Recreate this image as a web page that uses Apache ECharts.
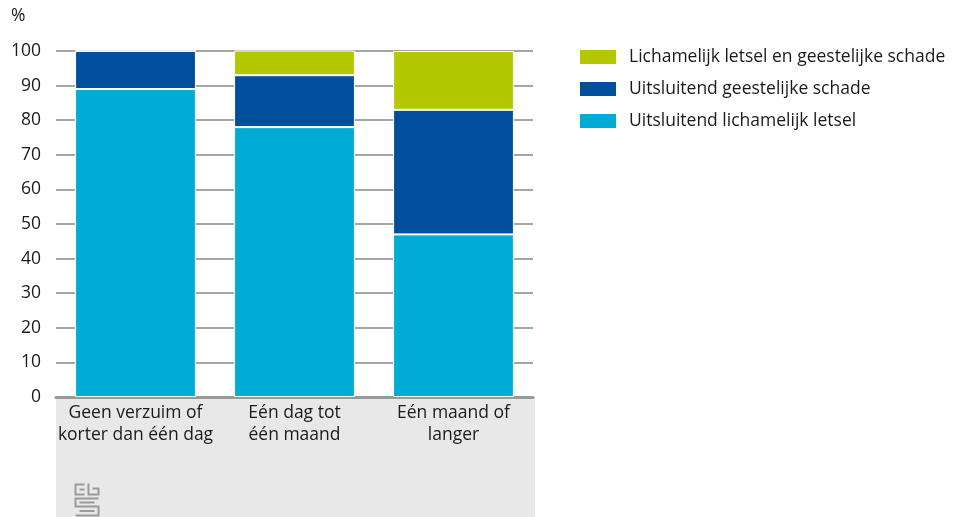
<!DOCTYPE html>
<html>
<head>
<meta charset="utf-8">
<script src="https://cdn.jsdelivr.net/npm/echarts@6/dist/echarts.min.js"></script>
<style>
  html, body { margin: 0; padding: 0; background: #fff; }
  #chart { width: 967px; height: 517px; }
</style>
</head>
<body>
<div id="chart"></div>
<script>
// categorieën (duur verzuim)
const categories = ['Geen verzuim of\nkorter dan één dag', 'Eén dag tot\néén maand', 'Eén maand of\nlanger'];
// percentages per categorie
const lichamelijk = [89, 78, 47];
const geestelijk = [11, 15, 36];
const beide = [0, 8, 17];

const seriesNames = ['Uitsluitend lichamelijk letsel', 'Uitsluitend geestelijke schade', 'Lichamelijk letsel en geestelijke schade'];
const colors = ['#00acd6', '#004f9d', '#b3c800'];

const fontFam = '"Open Sans", sans-serif';
const textColor = '#1a1a1a';
const fs = 17.5;

const chart = echarts.init(document.getElementById('chart'));

function makeSeries(name, data, color) {
  return {
    name: name,
    type: 'bar',
    stack: 'totaal',
    data: data,
    barWidth: '76%',
    itemStyle: {
      color: color,
      borderColor: '#fff',
      borderWidth: 1
    }
  };
}

const logoLine = { stroke: '#9a9a9a', lineWidth: 2, fill: null };

const option = {
  backgroundColor: '#fff',
  animation: false,
  textStyle: { fontFamily: fontFam },
  grid: { left: 56, right: 434, top: 51, bottom: 120 },
  graphic: [
    // grijs vlak onder de x-as
    {
      type: 'rect',
      z: -10,
      shape: { x: 56, y: 397, width: 479, height: 120 },
      style: { fill: '#e8e8e8' }
    },
    {
      type: 'text',
      left: 11,
      top: 7,
      style: { text: '%', fontSize: fs, fontFamily: fontFam, fill: textColor }
    },
    // cbs logo (benadering)
    {
      type: 'group',
      left: 73,
      top: 481,
      children: [
        { type: 'polyline', shape: { points: [[10, 1], [1, 1], [1, 11], [10, 11]] }, style: logoLine },
        { type: 'polyline', shape: { points: [[5, 6], [10, 6]] }, style: logoLine },
        { type: 'polyline', shape: { points: [[14, 0], [14, 11], [24, 11], [24, 5], [18, 5]] }, style: logoLine },
        { type: 'polyline', shape: { points: [[24, 15], [1, 15], [1, 23], [24, 23], [24, 32], [1, 32]] }, style: logoLine },
        { type: 'polyline', shape: { points: [[20, 19], [5, 19]] }, style: logoLine },
        { type: 'polyline', shape: { points: [[5, 27.5], [20, 27.5]] }, style: logoLine }
      ]
    }
  ],
  legend: {
    orient: 'vertical',
    left: 573,
    top: 43,
    itemWidth: 38,
    itemHeight: 16,
    itemGap: 14,
    icon: 'rect',
    data: [seriesNames[2], seriesNames[1], seriesNames[0]],
    textStyle: { fontSize: fs, color: textColor, fontFamily: fontFam, lineHeight: 18, padding: [0, 0, 0, 7] }
  },
  xAxis: {
    type: 'category',
    data: categories,
    axisTick: { show: false },
    axisLine: { lineStyle: { color: '#999', width: 3 } },
    axisLabel: {
      interval: 0,
      fontSize: fs,
      lineHeight: 22,
      color: textColor,
      margin: 5,
      fontFamily: fontFam
    }
  },
  yAxis: {
    type: 'value',
    min: 0,
    max: 100,
    interval: 10,
    axisLine: { show: false },
    axisTick: { show: false },
    axisLabel: { fontSize: fs, color: textColor, margin: 15, fontFamily: fontFam },
    splitLine: { lineStyle: { color: '#a6a6a6', width: 2 } }
  },
  series: [
    makeSeries(seriesNames[0], lichamelijk, colors[0]),
    makeSeries(seriesNames[1], geestelijk, colors[1]),
    makeSeries(seriesNames[2], beide, colors[2])
  ]
};

chart.setOption(option);
window.addEventListener('resize', () => {
  chart.resize();
});
</script>
</body>
</html>
